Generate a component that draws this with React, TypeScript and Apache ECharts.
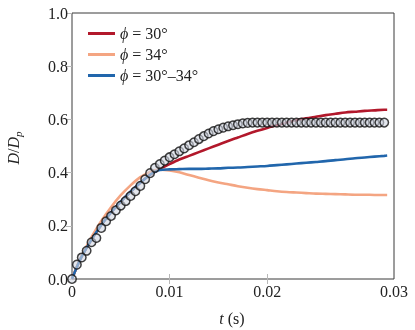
import React, { useEffect, useRef } from "react";
import * as echarts from "echarts";

// ---- data ----
const seriesNames = ["ϕ = 30°", "ϕ = 34°", "ϕ = 30°–34°"];
const seriesColors = ["#b2182b", "#f4a582", "#2166ac"];

// model time grid (s)
const tModel = [
  0, 0.0005, 0.001, 0.002, 0.003, 0.004, 0.005, 0.006, 0.007, 0.008, 0.0085, 0.009,
  0.01, 0.011, 0.012, 0.013, 0.014, 0.015, 0.016, 0.017, 0.018, 0.019, 0.02, 0.021,
  0.022, 0.023, 0.024, 0.025, 0.026, 0.027, 0.028, 0.029, 0.03, 0.031, 0.032, 0.0323,
];
// phi = 30°
const d30 = [
  0, 0.045, 0.085, 0.148, 0.203, 0.25, 0.291, 0.328, 0.362, 0.392, 0.403, 0.414,
  0.432, 0.449, 0.463, 0.477, 0.491, 0.505, 0.519, 0.532, 0.545, 0.557, 0.568, 0.578,
  0.588, 0.597, 0.604, 0.61, 0.616, 0.621, 0.626, 0.629, 0.632, 0.634, 0.636, 0.636,
];
// phi = 34°
const d34 = [
  0, 0.047, 0.088, 0.157, 0.218, 0.27, 0.315, 0.352, 0.383, 0.403, 0.409, 0.411,
  0.408, 0.401, 0.391, 0.381, 0.371, 0.363, 0.356, 0.349, 0.343, 0.338, 0.334, 0.33,
  0.327, 0.325, 0.323, 0.321, 0.32, 0.319, 0.318, 0.317, 0.317, 0.316, 0.316, 0.316,
];
// phi = 30°–34°
const d3034 = [
  0, 0.045, 0.085, 0.148, 0.203, 0.25, 0.291, 0.328, 0.362, 0.392, 0.403, 0.41,
  0.412, 0.413, 0.414, 0.414, 0.415, 0.416, 0.418, 0.419, 0.421, 0.423, 0.425, 0.428,
  0.431, 0.434, 0.437, 0.44, 0.443, 0.447, 0.45, 0.454, 0.457, 0.46, 0.463, 0.464,
];

// measured points (circles)
const tExp = [
  0, 0.0005, 0.001, 0.0015, 0.002, 0.0025, 0.003, 0.0035, 0.004, 0.0045, 0.005, 0.0055,
  0.006, 0.0065, 0.007, 0.0075, 0.008, 0.0085, 0.009, 0.0095, 0.01, 0.0105, 0.011, 0.0115,
  0.012, 0.0125, 0.013, 0.0135, 0.014, 0.0145, 0.015, 0.0155, 0.016, 0.0165, 0.017, 0.0175,
  0.018, 0.0185, 0.019, 0.0195, 0.02, 0.0205, 0.021, 0.0215, 0.022, 0.0225, 0.023, 0.0235,
  0.024, 0.0245, 0.025, 0.0255, 0.026, 0.0265, 0.027, 0.0275, 0.028, 0.0285, 0.029, 0.0295,
  0.03, 0.0305, 0.031, 0.0315, 0.032,
];
const dExp = [
  0, 0.054, 0.081, 0.106, 0.138, 0.154, 0.192, 0.217, 0.237, 0.258, 0.276, 0.293,
  0.312, 0.33, 0.35, 0.375, 0.398, 0.418, 0.432, 0.445, 0.458, 0.469, 0.48, 0.491,
  0.503, 0.514, 0.526, 0.537, 0.547, 0.556, 0.563, 0.569, 0.574, 0.578, 0.582, 0.585,
  0.587, 0.588, 0.588, 0.588, 0.588, 0.588, 0.588, 0.588, 0.588, 0.588, 0.588, 0.588,
  0.588, 0.588, 0.588, 0.588, 0.588, 0.588, 0.588, 0.588, 0.588, 0.588, 0.588, 0.588,
  0.588, 0.588, 0.588, 0.588, 0.588,
];

const xLabelValues = [0, 0.01, 0.02, 0.033];
const xLabelTexts = ["0", "0.01", "0.02", "0.03"];
const xTickValues = [0.01, 0.02];

const FONT = "'Liberation Serif', 'DejaVu Serif', serif";
const TXT = "#222";
const TICK = "#b8b8b8";
const FS = 16;

export default function App() {
  const ref = useRef<HTMLDivElement>(null);

  useEffect(() => {
    if (!ref.current) return;
    const chart = echarts.init(ref.current, undefined, { renderer: "svg" });
    const modelSets = [d30, d34, d3034];

    const xLabelFmt = (v: number) => {
      const i = xLabelValues.findIndex((x) => Math.abs(x - v) < 1e-9);
      return i >= 0 ? xLabelTexts[i] : "";
    };

    const option: any = {
      animation: false,
      grid: {
        left: 72,
        right: 21,
        top: 13,
        bottom: 51,
        show: true,
        borderColor: "#3a3a3a",
        borderWidth: 1,
        backgroundColor: "transparent",
      },
      xAxis: [
        {
          type: "value",
          position: "bottom",
          min: 0,
          max: 0.033,
          axisLine: { show: false },
          splitLine: { show: false },
          axisTick: {
            show: true,
            inside: true,
            length: 5,
            lineStyle: { color: TICK },
            customValues: xTickValues,
          },
          axisLabel: {
            customValues: xLabelValues,
            formatter: xLabelFmt,
            fontFamily: FONT,
            fontSize: FS,
            color: TXT,
            margin: 4,
          },
        },
        {
          type: "value",
          position: "top",
          min: 0,
          max: 0.033,
          axisLine: { show: false },
          splitLine: { show: false },
          axisTick: {
            show: true,
            inside: true,
            length: 5,
            lineStyle: { color: TICK },
            customValues: xTickValues,
          },
          axisLabel: { show: false },
        },
      ],
      yAxis: [
        {
          type: "value",
          min: 0,
          max: 1,
          interval: 0.2,
          axisLine: { show: false },
          splitLine: { show: false },
          axisTick: { show: true, inside: false, length: 5, lineStyle: { color: TICK } },
          axisLabel: {
            formatter: (v: number) => v.toFixed(1),
            fontFamily: FONT,
            fontSize: FS,
            color: TXT,
            margin: 4,
          },
        },
        {
          type: "value",
          position: "right",
          min: 0,
          max: 1,
          interval: 0.2,
          axisLine: { show: false },
          splitLine: { show: false },
          axisTick: { show: true, inside: true, length: 6, lineStyle: { color: TICK } },
          axisLabel: { show: false },
        },
      ],
      legend: {
        data: seriesNames,
        orient: "vertical",
        left: 88,
        top: 25,
        padding: 0,
        icon: "rect",
        itemWidth: 27,
        itemHeight: 3,
        itemGap: 4,
        selectedMode: false,
        formatter: (n: string) => "{i|ϕ}" + n.slice(1),
        textStyle: {
          fontFamily: FONT,
          fontSize: FS,
          color: TXT,
          lineHeight: 17,
          rich: {
            i: { fontFamily: FONT, fontSize: FS, fontStyle: "italic", color: TXT, lineHeight: 17 },
          },
        },
      },
      graphic: [
        {
          type: "text",
          x: 13,
          y: 148,
          rotation: Math.PI / 2,
          silent: true,
          style: {
            text: "{i|D}{n|/}{i|D}{s|p}",
            align: "center",
            verticalAlign: "middle",
            fill: TXT,
            fontFamily: FONT,
            fontSize: FS,
            rich: {
              i: { fontFamily: FONT, fontSize: FS, fontStyle: "italic", fill: TXT, lineHeight: 20 },
              n: { fontFamily: FONT, fontSize: FS, fill: TXT, lineHeight: 20 },
              s: {
                fontFamily: FONT,
                fontSize: 11,
                fontStyle: "italic",
                fill: TXT,
                lineHeight: 11,
                verticalAlign: "bottom",
              },
            },
          },
        },
        {
          type: "text",
          x: 232,
          y: 318,
          silent: true,
          style: {
            text: "{i|t} (s)",
            align: "center",
            verticalAlign: "middle",
            fill: TXT,
            fontFamily: FONT,
            fontSize: FS,
            rich: {
              i: { fontFamily: FONT, fontSize: FS, fontStyle: "italic", fill: TXT },
            },
          },
        },
      ],
      series: [
        ...seriesNames.map((name, k) => ({
          name,
          type: "line",
          data: tModel.map((t, i) => [t, modelSets[k][i]]),
          showSymbol: false,
          smooth: 0.3,
          silent: true,
          lineStyle: { color: seriesColors[k], width: 2.6 },
          itemStyle: { color: seriesColors[k] },
          z: 2,
        })),
        {
          name: "experiment",
          type: "scatter",
          data: tExp.map((t, i) => [t, dExp[i]]),
          symbol: "circle",
          symbolSize: 8.5,
          silent: true,
          itemStyle: {
            color: "rgba(210,215,226,0.75)",
            borderColor: "#111",
            borderWidth: 1.5,
          },
          z: 3,
        },
      ],
    };

    chart.setOption(option);
    return () => chart.dispose();
  }, []);

  return (
    <div
      ref={ref}
      style={{ position: "fixed", left: 0, top: 0, width: 415, height: 330 }}
    />
  );
}
